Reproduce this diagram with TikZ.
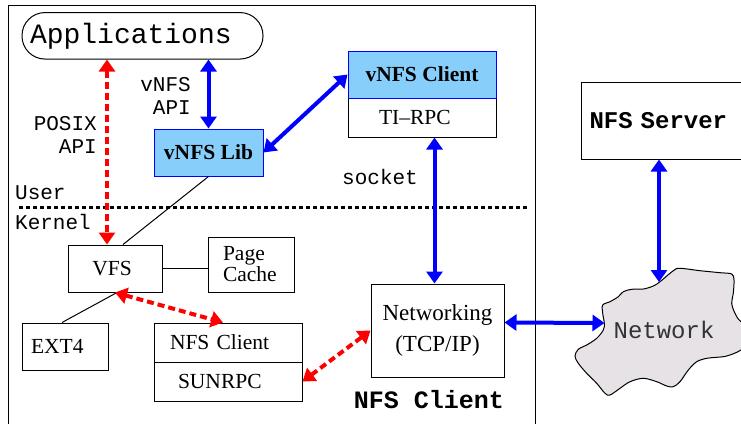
\documentclass[tikz,border=0pt]{standalone}
\usepackage{fontspec}
\setmainfont{Liberation Serif}
\setmonofont{Liberation Mono}
\usetikzlibrary{arrows.meta,calc}
\definecolor{vblue}{RGB}{0,0,255}
\definecolor{vfill}{RGB}{135,206,250}
\definecolor{vred}{RGB}{255,0,0}
\definecolor{cloudfill}{RGB}{230,226,230}
\tikzset{
  box/.style={draw, line width=1pt, inner sep=0pt, font=\fontsize{21.5}{21}\selectfont},
  bluebox/.style={box, draw=vblue, fill=vfill, font=\fontsize{21.5}{21}\selectfont\bfseries},
  monolabel/.style={font=\ttfamily\fontsize{21}{23.5}\selectfont, inner sep=0pt},
  barrow/.style={draw=vblue, line width=4pt, {Triangle[length=12pt,width=16pt]}-{Triangle[length=12pt,width=16pt]}},
  rarrow/.style={draw=vred, line width=4pt, dash pattern=on 7pt off 4pt, {Triangle[length=12pt,width=16pt]}-{Triangle[length=12pt,width=16pt]}},
  link/.style={draw, line width=1pt},
}
\begin{document}
\begin{tikzpicture}[x=1pt,y=-1pt]
\useasboundingbox (0,0) rectangle (741,423);
\begin{scope}
\clip (0,0) rectangle (741,423);
% frame of the NFS client machine
\draw[line width=1pt] (8,430) -- (8,5) -- (535,5) -- (535,430);
% user / kernel separator
\draw[line width=3pt, dash pattern=on 4pt off 3pt] (19,207) -- (527,207);
\node[monolabel, anchor=base west] (user) at (15,199) {User};
\node[monolabel, anchor=base west] (kernel) at (15,229) {Kernel};
\node[monolabel, anchor=base west] (socket) at (342,184) {socket};
\node[monolabel, anchor=east, align=right] (vapi) at (191,96) {vNFS\\API};
\node[monolabel, anchor=east, align=right] (papi) at (97,135) {POSIX\\API};

% boxes
\node[box, rounded corners=23pt, text width=225pt, align=left, inner xsep=8pt, minimum height=46.5pt, font=\ttfamily\fontsize{28}{30}\selectfont] (app) at (142.5,35.8) {Applications};
\node[bluebox, minimum width=109pt, minimum height=47pt] (lib) at (208.5,152.5) {vNFS Lib};
\node[box, minimum height=39pt, text width=86pt, inner xsep=31pt, align=left] (ti) at (422,117.5) {TI–RPC};
\node[bluebox, minimum width=148pt, minimum height=47pt] (vc) at (422,74.5) {vNFS Client};
\node[box, anchor=west, minimum height=77pt, text width=160pt, inner xsep=8pt, align=left, font=\ttfamily\bfseries\fontsize{24}{26}\selectfont] (srv) at (581,120.5) {NFS Server};
\node[box, minimum height=47pt, text width=66pt, inner xsep=14pt, align=center] (vfs) at (115,268.5) {\hspace*{-6pt}VFS};
\node[box, minimum height=55pt, text width=56pt, inner xsep=15pt, align=left] (pc) at (251,264.5) {Page\\Cache};
\node[box, minimum height=47pt, text width=68pt, inner xsep=9pt, align=left] (ext) at (65,346.5) {EXT4};
\node[box, text width=116pt, inner xsep=16pt, align=left, minimum height=39pt] (nfsc) at (228,342.5) {NFS Client};
\node[box, text width=100pt, inner xsep=24pt, align=left, minimum height=39pt] (sun) at (228,381.5) {SUNRPC};
\node[box, minimum width=133pt, minimum height=93pt, align=center, font=\fontsize{23}{31}\selectfont] (netw) at (437.5,330.5) {Networking\\(TCP/IP)};

% network cloud
\draw[line width=1pt, fill=cloudfill] plot[smooth cycle, tension=0.55] coordinates {
 (660,281.7) (673.3,270.7) (680,268.3) (700,270.7) (720,272.7) (731.7,274) (734,280)
 (733.3,293.3) (731.7,303.3) (735,313.3) (741,321.7) (760,335) (741,350) (726.7,356)
 (716.7,357.3) (706.7,358.3) (696.7,361.7) (688.3,370) (680,381.7) (673.3,386.7)
 (666.7,386) (656.7,381.7) (643.3,378.3) (630,381.7) (620,388.3) (610,395) (605,393.3)
 (596.7,383.3) (586.7,373.3) (578.3,363.3) (575,356) (578.3,349.3) (586.7,345)
 (596.7,338.3) (603.3,330) (604.3,323.3) (602.7,313.3) (602.7,305) (610,301.7)
 (618.3,296.7) (623.3,291.7) (631.7,289.3) (643.3,289) (653.3,286)};
\coordinate (cloudW) at (604.5,323);
\coordinate (cloudN) at (659,282);
\node[font=\ttfamily\fontsize{24}{26}\selectfont, text=black!80] (nettext) at (664,330) {Network};
\node[font=\ttfamily\bfseries\fontsize{25}{27}\selectfont, anchor=base, inner sep=0pt] (clientlabel) at (429,408) {NFS Client};

% thin links
\draw[link] (lib.south) -- ($(vfs.north)+(8,0)$);
\draw[link] (vfs.east) -- (vfs.east -| pc.west);
\draw[link] ($(vfs.south)+(2,0)$) -- ($(ext.north)+(-3,0)$);

% arrows
\draw[barrow] (app.south -| lib.north) -- (lib.north);
\draw[rarrow] (107,0 |- app.south) -- (107,0 |- vfs.north);
\draw[barrow] (lib.east) -- (vc.west);
\draw[rarrow] (vfs.south) -- ($(nfsc.north)+(-5,0)$);
\draw[rarrow] (sun.east) -- (netw.west);
\draw[barrow] ($(ti.south -| netw.north)+(-3,0)$) -- ($(netw.north)+(-3,0)$);
\draw[barrow] ($(netw.east)+(0,-8)$) -- (cloudW);
\draw[barrow] (cloudN |- srv.south) -- (cloudN);
\end{scope}
\end{tikzpicture}
\end{document}
